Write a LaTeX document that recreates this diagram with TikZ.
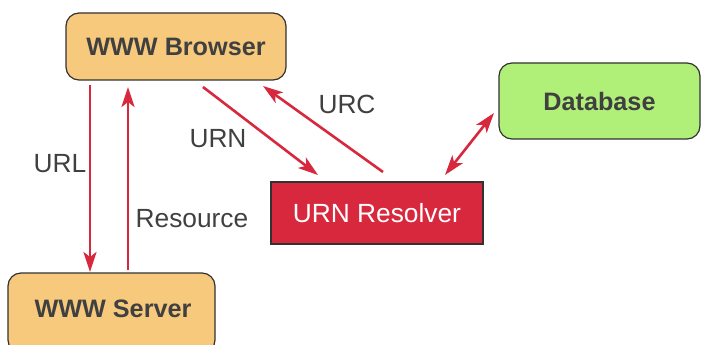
\documentclass[tikz,border=0pt]{standalone}
\usepackage{fontspec}
\setmainfont{Liberation Sans}
\usetikzlibrary{arrows.meta}
\definecolor{boxorange}{RGB}{247,201,124}
\definecolor{boxgreen}{RGB}{176,240,120}
\definecolor{boxred}{RGB}{216,40,62}
\definecolor{linkred}{RGB}{216,40,62}
\definecolor{txt}{RGB}{64,64,64}
\definecolor{edge}{RGB}{50,50,50}
\tikzset{
  tip/.tip={Stealth[length=20pt,width=13pt,inset=5pt]},
  box/.style={draw=edge, line width=1.2pt, rounded corners=13pt, inner sep=0pt,
    text=txt, font=\fontsize{25.2}{29}\selectfont\bfseries},
  link/.style={draw=linkred, line width=2.6pt, -tip},
  dlink/.style={link, tip-tip},
  lbl/.style={text=txt, font=\fontsize{26.3}{30}\selectfont, inner sep=0pt}
}
\begin{document}
\begin{tikzpicture}[x=1pt,y=-1pt]
\useasboundingbox (0,0) rectangle (702,345);
\clip (0,0) rectangle (702,345);
\fill[white] (0,0) rectangle (702,345);

% boxes
\node[box, fill=boxorange, minimum width=220pt, minimum height=67pt] (browser) at (176,46.5) {WWW Browser};
\node[box, fill=boxorange, minimum width=207pt, minimum height=80pt] (server) at (111.5,313) {};
\node[text=txt, font=\fontsize{25.2}{29}\selectfont\bfseries] (servertext) at (113,309) {WWW Server};
\node[box, fill=boxred, rounded corners=0pt, text=white, font=\fontsize{26.3}{30}\selectfont, minimum width=212pt, minimum height=62pt] (resolver) at (377,213) {URN Resolver};
\node[box, fill=boxgreen, minimum width=201pt, minimum height=76pt] (db) at (599.5,101) {Database};

% anchor points for connectors
\coordinate (bL) at (90,85);
\coordinate (sL) at (90,272);
\coordinate (sR) at (128,270);
\coordinate (bR) at (128,87);
\coordinate (urnA) at (203,87);
\coordinate (urnB) at (318,175);
\coordinate (urcA) at (383,172);
\coordinate (urcB) at (263,86);
\coordinate (dbA) at (445,175);
\coordinate (dbB) at (494,113);

% connectors
\draw[link] (bL) -- (sL);
\draw[link] (sR) -- (bR);
\draw[link] (urnA) -- (urnB);
\draw[link] (urcA) -- (urcB);
\draw[dlink] (dbA) -- (dbB);

% labels
\node[lbl] (lurl) at (60,164) {URL};
\node[lbl] (lres) at (192,219) {Resource};
\node[lbl] (lurn) at (218,139) {URN};
\node[lbl] (lurc) at (347,104) {URC};
\end{tikzpicture}
\end{document}
